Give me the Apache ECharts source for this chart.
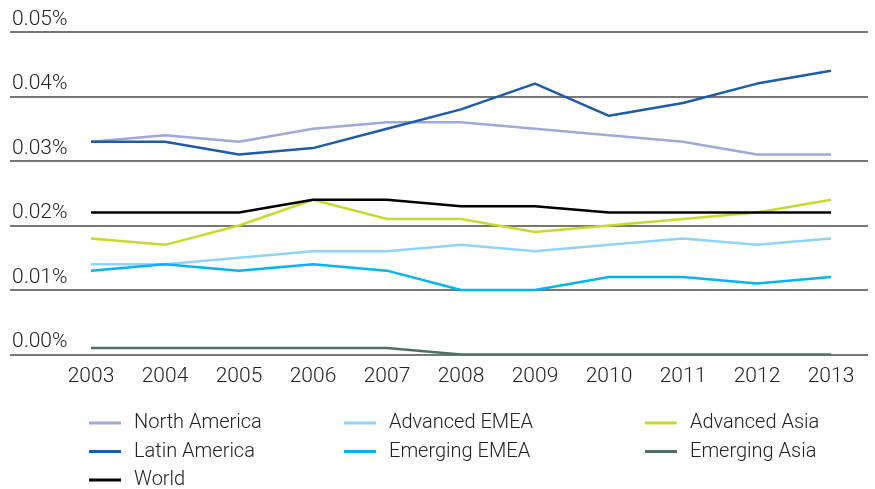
<!DOCTYPE html>
<html>
<head>
<meta charset="utf-8">
<script src="https://cdn.jsdelivr.net/npm/echarts@6/dist/echarts.min.js"></script>
<style>
  html, body { margin: 0; padding: 0; background: #fff; }
  #chart { width: 875px; height: 489px; }
</style>
</head>
<body>
<div id="chart"></div>
<script>
// values in percent
var years = ["2003", "2004", "2005", "2006", "2007", "2008", "2009", "2010", "2011", "2012", "2013"];
var yTicks = [0, 0.01, 0.02, 0.03, 0.04, 0.05];

var northAmerica = [0.033, 0.034, 0.033, 0.035, 0.036, 0.036, 0.035, 0.034, 0.033, 0.031, 0.031];
var advancedEmea = [0.014, 0.014, 0.015, 0.016, 0.016, 0.017, 0.016, 0.017, 0.018, 0.017, 0.018];
var advancedAsia = [0.018, 0.017, 0.020, 0.024, 0.021, 0.021, 0.019, 0.020, 0.021, 0.022, 0.024];
var latinAmerica = [0.033, 0.033, 0.031, 0.032, 0.035, 0.038, 0.042, 0.037, 0.039, 0.042, 0.044];
var emergingEmea = [0.013, 0.014, 0.013, 0.014, 0.013, 0.010, 0.010, 0.012, 0.012, 0.011, 0.012];
var emergingAsia = [0.001, 0.001, 0.001, 0.001, 0.001, 0, 0, 0, 0, 0, 0];
var world = [0.022, 0.022, 0.022, 0.024, 0.024, 0.023, 0.023, 0.022, 0.022, 0.022, 0.022];

var myChart = echarts.init(document.getElementById("chart"));

var labelFont = "Roboto, sans-serif";

function line(name, data, color) {
  return {
    name: name,
    type: "line",
    xAxisIndex: 1,
    yAxisIndex: 1,
    data: data,
    showSymbol: false,
    symbol: "none",
    lineStyle: { color: color, width: 2.5 },
    itemStyle: { color: color },
  };
}

var legendText = {
  color: "#222",
  fontSize: 20,
  fontFamily: "Roboto, sans-serif",
  fontWeight: 300,
  lineHeight: 20,
  padding: [0, 0, 0, 8],
};

function legendCol(left, names) {
  return {
    orient: "vertical",
    left: left,
    top: 413,
    height: 120,
    padding: 0,
    itemGap: 8.5,
    itemWidth: 32,
    itemHeight: 3,
    icon: "rect",
    textStyle: legendText,
    data: names,
  };
}

var option = {
  backgroundColor: "#fff",
  animation: false,
  grid: [
    { left: 10, right: 7, top: 32, bottom: 134.5 },
    { left: 91, right: 44, top: 32, bottom: 134.5 },
  ],
  legend: [
    legendCol(89, ["North America", "Latin America", "World"]),
    legendCol(344, ["Advanced EMEA", "Emerging EMEA"]),
    legendCol(645, ["Advanced Asia", "Emerging Asia"]),
  ],
  xAxis: [
    {
      gridIndex: 0,
      type: "category",
      data: years,
      show: false,
    },
    {
      gridIndex: 1,
      type: "category",
      data: years,
      boundaryGap: false,
      axisLine: { show: false },
      axisTick: { show: false },
      splitLine: { show: false },
      axisLabel: {
        margin: 12,
        color: "#222",
        fontSize: 21,
        fontFamily: labelFont,
        fontWeight: 300,
      },
    },
  ],
  yAxis: [
    {
      gridIndex: 0,
      type: "value",
      min: yTicks[0],
      max: yTicks[yTicks.length - 1],
      interval: 0.01,
      axisLine: { show: false },
      axisTick: { show: false },
      splitLine: {
        lineStyle: { color: "#4a4a4a", width: 1.5 },
      },
      axisLabel: {
        inside: true,
        margin: 2,
        align: "left",
        verticalAlign: "bottom",
        padding: [0, 0, 2, 0],
        color: "#222",
        fontSize: 21,
        fontFamily: labelFont,
        fontWeight: 300,
        formatter: function (v) {
          return v.toFixed(2) + "%";
        },
      },
    },
    {
      gridIndex: 1,
      type: "value",
      min: yTicks[0],
      max: yTicks[yTicks.length - 1],
      show: false,
      splitLine: { show: false },
    },
  ],
  series: [
    line("North America", northAmerica, "#9ea9d9"),
    line("Advanced EMEA", advancedEmea, "#8fd4f6"),
    line("Advanced Asia", advancedAsia, "#c9da2f"),
    line("Latin America", latinAmerica, "#1f5ba8"),
    line("Emerging EMEA", emergingEmea, "#00b5ef"),
    line("Emerging Asia", emergingAsia, "#4c7268"),
    line("World", world, "#000000"),
  ],
};

window.onresize = function () {
  myChart.resize();
};
myChart.setOption(option);
</script>
</body>
</html>
